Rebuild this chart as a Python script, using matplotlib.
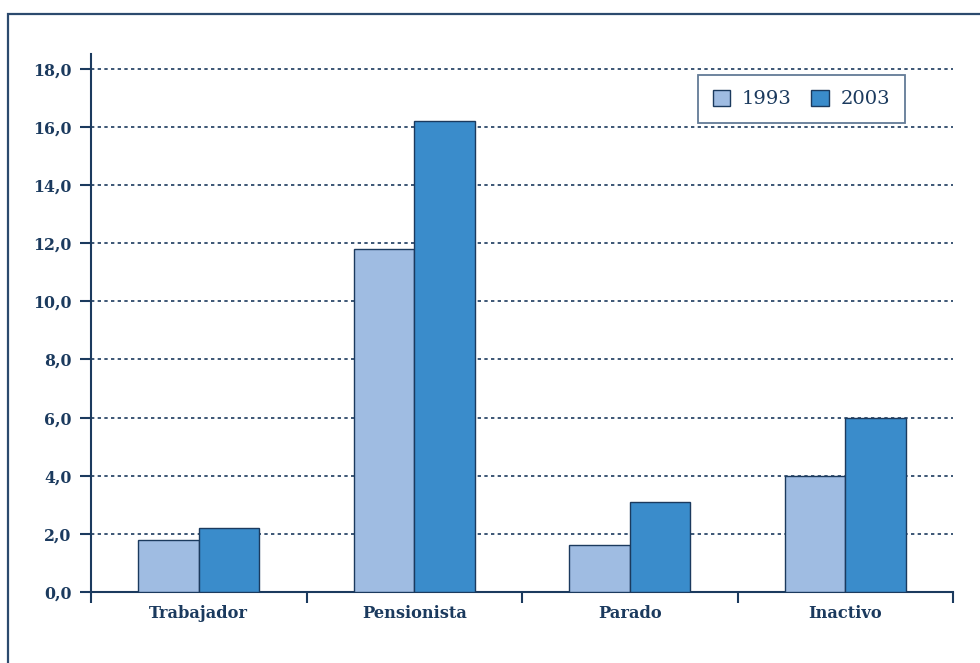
import matplotlib.pyplot as plt
import numpy as np
from matplotlib.patches import Rectangle

categories = ['Trabajador', 'Pensionista', 'Parado', 'Inactivo']
years = ['1993', '2003']
vals_1993 = [1.8, 11.8, 1.6, 4.0]
vals_2003 = [2.2, 16.2, 3.1, 6.0]
yticks = [0, 2, 4, 6, 8, 10, 12, 14, 16, 18]

navy = '#1b3a5e'
light = '#9fbce2'
dark = '#3a8ccb'

plt.rcParams['font.family'] = ['DejaVu Serif']

fig = plt.figure(figsize=(9.8, 6.63), dpi=100)
ax = fig.add_axes([91/980, 1 - 592/663, (953-91)/980, (592-54)/663])

# outer frame of the original page box
fig.patches.append(Rectangle((8/980, -0.1), 1.2, 1 - 14/663 + 0.1,
                             transform=fig.transFigure, fill=False,
                             edgecolor='#2c4a6e', lw=1.6))

x = np.arange(len(categories))
w = 0.28
ax.bar(x - w/2, vals_1993, w, color=light, edgecolor=navy, lw=1.0,
       label=years[0], zorder=3)
ax.bar(x + w/2, vals_2003, w, color=dark, edgecolor=navy, lw=1.0,
       label=years[1], zorder=3)

ax.set_xlim(-0.5, len(categories) - 0.5)
ax.set_ylim(0, 18.51)
ax.set_yticks(yticks)
ax.set_yticklabels([f'{v:.1f}'.replace('.', ',') for v in yticks],
                   fontsize=11.3, fontweight='bold', color=navy)
ax.set_xticks(x)
ax.set_xticklabels(categories, fontsize=11.7, fontweight='bold', color=navy)
ax.tick_params(axis='x', length=0, pad=9)
ax.tick_params(axis='y', length=8, width=1.5, color=navy, pad=6)

# category boundary ticks below the x axis
ax.set_xticks(np.arange(len(categories) + 1) - 0.5, minor=True)
ax.tick_params(axis='x', which='minor', length=8, width=1.5, color=navy,
               direction='out')

for v in yticks[1:]:
    ax.axhline(v, color=navy, lw=1.2, ls=(0, (2, 2)), zorder=1)

for s in ['top', 'right']:
    ax.spines[s].set_visible(False)
for s in ['left', 'bottom']:
    ax.spines[s].set_color(navy)
    ax.spines[s].set_linewidth(1.5)

leg = ax.legend(loc='upper right', bbox_to_anchor=(0.944, 0.961), ncol=2,
                fontsize=14, frameon=True, fancybox=False, borderpad=0.75,
                borderaxespad=0, handlelength=0.9, handleheight=0.9,
                columnspacing=1.0, handletextpad=0.6)
leg.get_frame().set_edgecolor('#3c5a7c')
leg.get_frame().set_linewidth(1.3)
for t in leg.get_texts():
    t.set_color(navy)

fig.savefig('out.png', dpi=100)
